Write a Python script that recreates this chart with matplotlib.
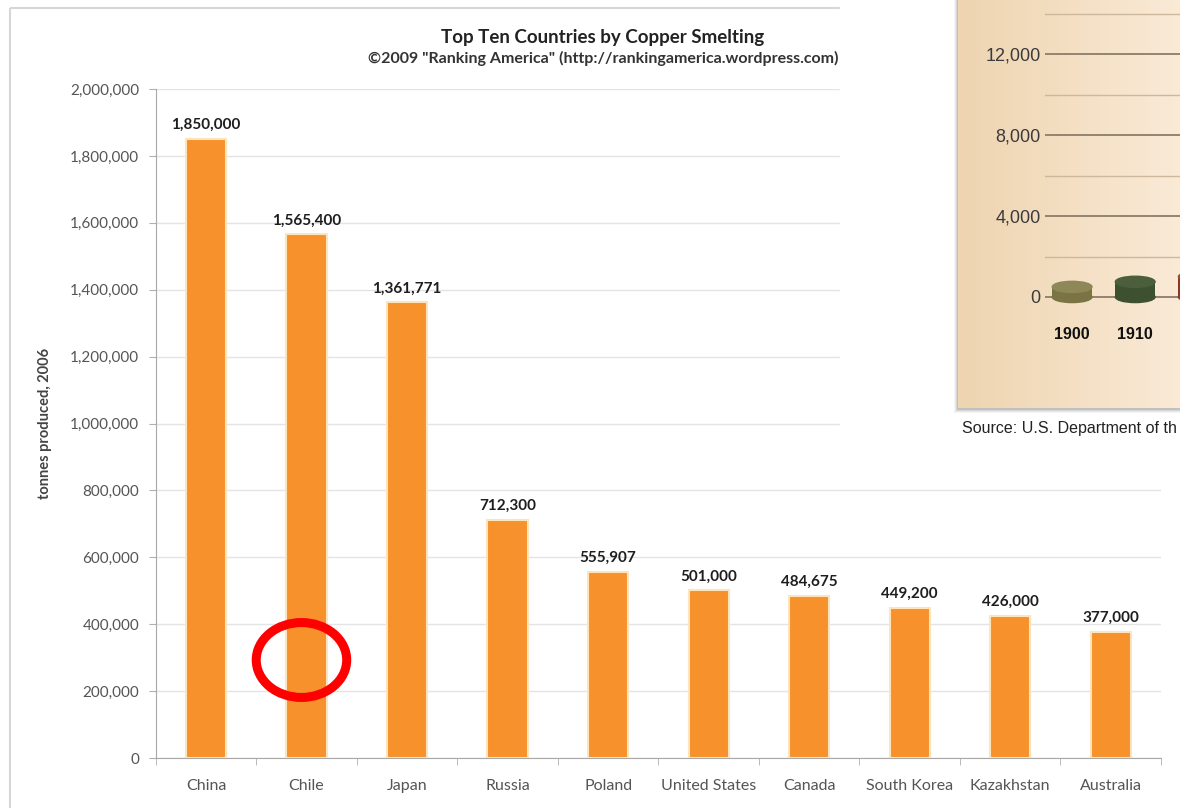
import matplotlib.pyplot as plt
import numpy as np
from matplotlib.patches import Rectangle, Ellipse
from matplotlib.ticker import FuncFormatter

# main chart data
countries = ["China", "Chile", "Japan", "Russia", "Poland", "United States",
             "Canada", "South Korea", "Kazakhstan", "Australia"]
tonnes = [1850000, 1565400, 1361771, 712300, 555907, 501000,
          484675, 449200, 426000, 377000]

# overlapping picture (top right), only partly visible
inset_years = ["1900", "1910"]
inset_values = [500, 750, 1000]
inset_major = [0, 4000, 8000, 12000]
inset_minor = [2000, 6000, 10000, 14000]

W, H = 1180, 808


def box(l, t, r, b):
    # pixel box -> figure fraction
    return [l / W, 1 - b / H, (r - l) / W, (b - t) / H]


plt.rcParams['font.family'] = ['Lato', 'DejaVu Sans']
fig = plt.figure(figsize=(W / 100, H / 100), dpi=100)

# background layer: panel frame and titles
back = fig.add_axes([0, 0, 1, 1], zorder=-1)
back.set_xlim(0, W)
back.set_ylim(H, 0)
back.axis('off')
back.add_patch(Rectangle((10, 8), 1300, 900, fill=False, edgecolor='#d6d6d6', lw=1.5))
back.text(603, 38, "Top Ten Countries by Copper Smelting", ha='center', va='center',
          fontsize=13.5, fontweight='bold', color='#222222')
back.text(603, 58, "\u00a92009 \"Ranking America\" (http://rankingamerica.wordpress.com)",
          ha='center', va='center', fontsize=11.5, fontweight='bold', color='#333333')
back.text(45, 423, "tonnes produced, 2006", rotation=90, ha='center', va='center',
          fontsize=10.5, fontweight='bold', color='#444444')

# bar chart
ax = fig.add_axes(box(155.7, 89, 1161, 758), zorder=0)
x = np.arange(len(countries))
ax.bar(x, tonnes, width=0.4, color='#f7912c', edgecolor='#fde4bd', linewidth=1.5, zorder=3)
for xi, v in zip(x, tonnes):
    ax.annotate(f"{v:,}", (xi, v), xytext=(0, 5), textcoords='offset points',
                ha='center', va='bottom', fontsize=11, fontweight='bold', color='#1e1e1e')
ax.set_xlim(-0.5, len(countries) - 0.5)
ax.set_ylim(0, 2000000)
ax.set_yticks(np.arange(0, 2000001, 200000))
ax.yaxis.set_major_formatter(FuncFormatter(lambda v, p: f"{int(v):,}"))
ax.grid(axis='y', color='#e4e4e4', lw=1)
ax.set_axisbelow(True)
ax.set_xticks(x, countries)
ax.set_xticks(np.arange(-0.5, len(countries)), minor=True)
ax.tick_params(axis='x', which='major', length=0, pad=15, labelsize=11.5, labelcolor='#555555')
ax.tick_params(axis='x', which='minor', length=5, color='#b0b0b0')
ax.tick_params(axis='y', length=5, color='#b0b0b0', pad=7, labelsize=11, labelcolor='#555555')
for s in ['top', 'right']:
    ax.spines[s].set_visible(False)
ax.spines['left'].set_color('#a8a8a8')
ax.spines['bottom'].set_color('#a8a8a8')

# red circle around Chile
ci = countries.index("Chile")
ax.add_patch(Ellipse((ci - 0.05, 293000), 0.9, 224000, fill=False,
                     edgecolor='#ff0000', lw=6.5, zorder=6))

# front layer: white cover, tan panel, shadow, source line
front = fig.add_axes([0, 0, 1, 1], zorder=2)
front.patch.set_alpha(0)
front.add_patch(Rectangle((840, 0), 400, 462, color='white', zorder=1))
for k, a in enumerate([0.06, 0.08, 0.12, 0.16]):
    d = 4 - k
    front.add_patch(Rectangle((958 - d, 0), 300, 408 + d + 1, color='#555555', alpha=a, lw=0, zorder=2))
grad = np.linspace(0, 1, 256)[None, :, None]
left_c = np.array([238, 212, 176]) / 255
right_c = np.array([250, 234, 214]) / 255
front.imshow(left_c + (right_c - left_c) * grad, extent=(958, 1180, 408, 0),
             aspect='auto', zorder=3)
front.text(962, 428, "Source: U.S. Department of th", ha='left', va='center',
           fontsize=11.5, color='#222222', family=['Liberation Sans'], zorder=4)
front.set_xlim(0, W)
front.set_ylim(H, 0)
front.axis('off')

# inset chart
ins = fig.add_axes(box(1045, 0, 1180, 310), zorder=3)
ins.patch.set_alpha(0)
for s in ins.spines.values():
    s.set_visible(False)
for v in inset_minor:
    ins.axhline(v, color='#cdb89d', lw=1, zorder=1)
for v in inset_major:
    ins.axhline(v, color='#8d7c69', lw=1.3, zorder=1)
side_colors = ['#7a7344', '#3d5030', '#8a3a22']
top_colors = ['#8e8757', '#4b5f3c', '#a04a2e']
for i, v in enumerate(inset_values):
    ins.add_patch(Ellipse((i, 0), 0.63, 550, color=side_colors[i], zorder=3))
    ins.bar(i, v, width=0.63, color=side_colors[i], zorder=3)
    ins.add_patch(Ellipse((i, v), 0.63, 550, color=top_colors[i], zorder=4))
ins.set_yticks(inset_major, [f"{v:,}" for v in inset_major])
ins.tick_params(axis='y', length=0, pad=3, labelsize=13, labelcolor='#3b3b3b',
                labelfontfamily='Liberation Sans')
ins.set_xticks(range(len(inset_years)), inset_years)
ins.tick_params(axis='x', length=0, pad=12, labelsize=11.5, labelcolor='#111111',
                labelfontfamily='Liberation Sans')
for t in ins.get_xticklabels():
    t.set_fontweight('bold')
ins.set_xlim(-0.43, 1.71)
ins.set_ylim(-642, 14667)

fig.savefig("out.png", dpi=100)
